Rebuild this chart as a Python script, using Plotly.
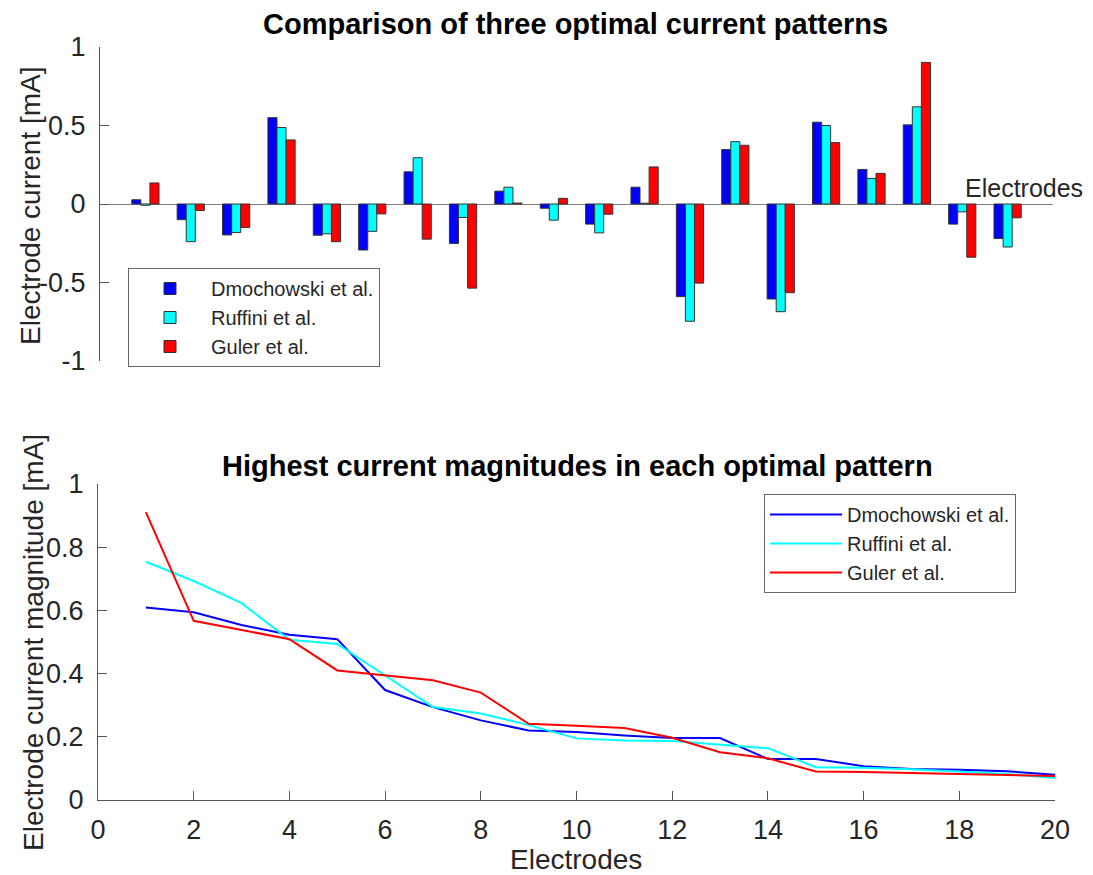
import plotly.graph_objects as go

electrodes = list(range(1, 21))

# Top chart: electrode currents [mA]
dmochowski_cur = [0.027, -0.10, -0.197, 0.55, -0.199, -0.293, 0.205, -0.251, 0.082, -0.027,
                  -0.128, 0.107, -0.59, 0.347, -0.605, 0.521, 0.22, 0.504, -0.128, -0.22]
ruffini_cur = [-0.008, -0.24, -0.182, 0.487, -0.19, -0.174, 0.295, -0.086, 0.107, -0.103,
               -0.184, 0.005, -0.747, 0.397, -0.686, 0.50, 0.163, 0.619, -0.05, -0.274]
guler_cur = [0.134, -0.042, -0.15, 0.408, -0.24, -0.063, -0.224, -0.536, 0.006, 0.036,
             -0.065, 0.236, -0.504, 0.374, -0.565, 0.391, 0.195, 0.902, -0.339, -0.088]

# Bottom chart: sorted magnitudes [mA]
dmochowski_mag = [0.609, 0.594, 0.554, 0.523, 0.509, 0.348, 0.294, 0.252, 0.22, 0.215,
                  0.204, 0.196, 0.196, 0.13, 0.13, 0.107, 0.098, 0.096, 0.091, 0.08]
ruffini_mag = [0.754, 0.693, 0.623, 0.507, 0.494, 0.393, 0.294, 0.274, 0.237, 0.195,
               0.188, 0.187, 0.175, 0.164, 0.104, 0.102, 0.097, 0.09, 0.082, 0.07]
guler_mag = [0.911, 0.567, 0.538, 0.509, 0.41, 0.394, 0.379, 0.34, 0.241, 0.235,
             0.228, 0.197, 0.151, 0.132, 0.09, 0.089, 0.085, 0.083, 0.079, 0.076]

names = ["Dmochowski et al.", "Ruffini et al.", "Guler et al."]
colors = ["#0000FF", "#00FFFF", "#FF0000"]

W, H = 1093, 875
FONT = "Liberation Sans, Arial, sans-serif"
AX = "#555555"

def px_x(p):
    return p / W

def px_y(p):
    return (H - p) / H

fig = go.Figure()

for vals, name, col in zip([dmochowski_cur, ruffini_cur, guler_cur], names, colors):
    fig.add_trace(go.Bar(x=electrodes, y=vals, name=name, marker=dict(color=col, line=dict(color="#333333", width=1)),
                         xaxis="x", yaxis="y", legend="legend"))

for vals, name, col in zip([dmochowski_mag, ruffini_mag, guler_mag], names, colors):
    fig.add_trace(go.Scatter(x=electrodes, y=vals, name=name, mode="lines", line=dict(color=col, width=2),
                             xaxis="x2", yaxis="y2", legend="legend2"))

fig.update_layout(
    width=W, height=H,
    margin=dict(l=0, r=0, t=0, b=0, autoexpand=False),
    paper_bgcolor="white", plot_bgcolor="white",
    font=dict(family=FONT, color="#262626"),
    barmode="group", bargap=0.4, bargroupgap=0,
    xaxis=dict(domain=[px_x(100), px_x(1053)], anchor="y", range=[0, 21], showticklabels=False,
               showline=False, showgrid=False, zeroline=False, ticks=""),
    yaxis=dict(domain=[px_y(361), px_y(47)], anchor="x", range=[-1, 1], tickvals=[-1, -0.5, 0, 0.5, 1],
               ticktext=["-1", "-0.5", "0", "0.5", "1"],
               showline=True, linecolor=AX, linewidth=1, ticks="inside", ticklen=9, tickcolor=AX,
               showgrid=False, zeroline=True, zerolinecolor="#808080", zerolinewidth=1,
               tickfont=dict(size=27, color="#262626"), ticklabelstandoff=8),
    xaxis2=dict(domain=[px_x(98), px_x(1055)], anchor="y2", range=[0, 20], tickvals=list(range(0, 21, 2)),
                showline=True, linecolor=AX, linewidth=1, ticks="inside", ticklen=9, tickcolor=AX,
                showgrid=False, zeroline=False, tickfont=dict(size=27, color="#262626"), ticklabelstandoff=6),
    yaxis2=dict(domain=[px_y(800), px_y(484)], anchor="x2", range=[0, 1], tickvals=[0, 0.2, 0.4, 0.6, 0.8, 1],
                ticktext=["0", "0.2", "0.4", "0.6", "0.8", "1"],
                showline=True, linecolor=AX, linewidth=1, ticks="inside", ticklen=9, tickcolor=AX,
                showgrid=False, zeroline=False, tickfont=dict(size=27, color="#262626"), ticklabelstandoff=8),
    legend=dict(x=px_x(128), y=px_y(268), xanchor="left", yanchor="top", bgcolor="white",
                bordercolor="#666666", borderwidth=1, font=dict(size=20, color="#262626"),
                tracegroupgap=0, itemwidth=72),
    legend2=dict(x=px_x(764), y=px_y(494), xanchor="left", yanchor="top", bgcolor="white",
                 bordercolor="#666666", borderwidth=1, font=dict(size=20, color="#262626"),
                 tracegroupgap=0, itemwidth=72),
    showlegend=True,
)

annotations = [
    dict(text="<b>Comparison of three optimal current patterns</b>", x=px_x(575), y=px_y(24),
         xref="paper", yref="paper", showarrow=False, xanchor="center", yanchor="middle",
         font=dict(size=29, color="#000000")),
    dict(text="<b>Highest current magnitudes in each optimal pattern</b>", x=px_x(577), y=px_y(466),
         xref="paper", yref="paper", showarrow=False, xanchor="center", yanchor="middle",
         font=dict(size=29, color="#000000")),
    dict(text="Electrode current [mA]", x=px_x(30), y=px_y(206), xref="paper", yref="paper",
         showarrow=False, textangle=-90, xanchor="center", yanchor="middle",
         font=dict(size=28, color="#262626")),
    dict(text="Electrode current magnitude [mA]", x=px_x(33), y=px_y(643), xref="paper", yref="paper",
         showarrow=False, textangle=-90, xanchor="center", yanchor="middle",
         font=dict(size=28, color="#262626")),
    dict(text="Electrodes", x=px_x(576), y=px_y(859), xref="paper", yref="paper",
         showarrow=False, xanchor="center", yanchor="middle", font=dict(size=28, color="#262626")),
    dict(text="Electrodes", x=px_x(963), y=px_y(204), xref="paper", yref="paper",
         showarrow=False, xanchor="left", yanchor="bottom", font=dict(size=25, color="#262626")),
]
fig.update_layout(annotations=annotations)

fig.write_html("out.html")
